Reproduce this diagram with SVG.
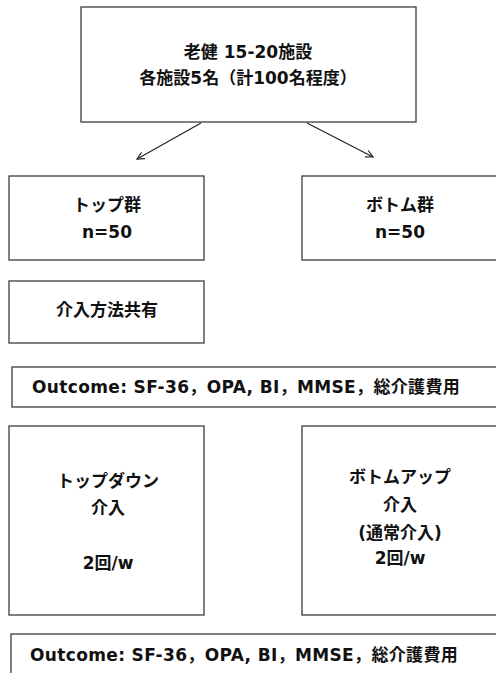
<svg xmlns="http://www.w3.org/2000/svg" width="496" height="673" viewBox="0 0 496 673">
<defs>
<style>
.b{fill:#fff;stroke:#3c3c3c;stroke-width:1.3}
.t{font-family:"DejaVu Sans","Noto Sans CJK JP",sans-serif;font-weight:bold;font-size:17px;fill:#111;text-anchor:middle;dominant-baseline:central}
.l{text-anchor:start;letter-spacing:0.35px}
.c{fill:none;stroke:#222;stroke-width:1.2}
</style>
<marker id="ah" viewBox="0 0 10 10" refX="9" refY="5" markerWidth="9" markerHeight="9" orient="auto" markerUnits="userSpaceOnUse">
<path d="M1,1 L9,5 L1,9" fill="none" stroke="#222" stroke-width="1.3"/>
</marker>
</defs>
<rect width="496" height="673" fill="#fff"/>
<g id="top">
<rect class="b" x="81" y="7" width="335" height="115"/>
<text class="t" x="248" y="52">老健 15-20施設</text>
<text class="t" x="248" y="78">各施設5名（計100名程度）</text>
</g>
<g id="topgroup">
<rect class="b" x="9" y="176" width="195" height="84"/>
<text class="t" x="107" y="205">トップ群</text>
<text class="t" x="107" y="232">n=50</text>
</g>
<g id="bottomgroup">
<rect class="b" x="302" y="176" width="200" height="84"/>
<text class="t" x="400" y="205">ボトム群</text>
<text class="t" x="400" y="232">n=50</text>
</g>
<g id="share">
<rect class="b" x="9" y="281" width="195" height="62"/>
<text class="t" x="107" y="310">介入方法共有</text>
</g>
<g id="outcome1">
<rect class="b" x="12" y="367" width="500" height="40"/>
<text class="t l" x="32" y="387">Outcome: SF-36，OPA, BI，MMSE，総介護費用</text>
</g>
<g id="topdown">
<rect class="b" x="9" y="426" width="195" height="189"/>
<text class="t" x="108" y="481">トップダウン</text>
<text class="t" x="108" y="508">介入</text>
<text class="t" x="108" y="563">2回/w</text>
</g>
<g id="bottomup">
<rect class="b" x="302" y="426" width="200" height="189"/>
<text class="t" x="400" y="477">ボトムアップ</text>
<text class="t" x="400" y="505">介入</text>
<text class="t" x="400" y="533">(通常介入)</text>
<text class="t" x="400" y="558">2回/w</text>
</g>
<g id="outcome2">
<rect class="b" x="11" y="634" width="500" height="50"/>
<text class="t l" x="30" y="655">Outcome: SF-36，OPA, BI，MMSE，総介護費用</text>
</g>
<g id="connectors">
<line class="c" x1="201" y1="123" x2="137" y2="159" marker-end="url(#ah)"/>
<line class="c" x1="307" y1="123" x2="373" y2="157" marker-end="url(#ah)"/>
</g>
</svg>
